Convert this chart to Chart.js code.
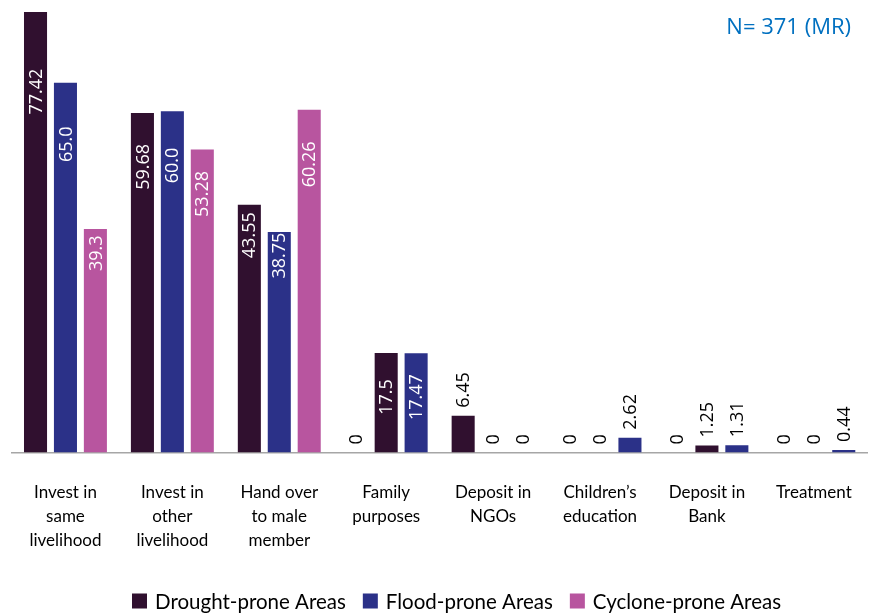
<!DOCTYPE html>
<html>
<head>
<meta charset="utf-8">
<script src="https://cdn.jsdelivr.net/npm/chart.js@4.4.1/dist/chart.umd.min.js"></script>
<style>
  html, body { margin: 0; padding: 0; background: #fff; }
  #wrap { width: 872px; height: 615px; }
</style>
</head>
<body>
<div id="wrap"><canvas id="uses"></canvas></div>
<script>
const categories = [
    ["Invest in", "same", "livelihood"],
    ["Invest in", "other", "livelihood"],
    ["Hand over", "to male", "member"],
    ["Family", "purposes"],
    ["Deposit in", "NGOs"],
    ["Children\u2019s", "education"],
    ["Deposit in", "Bank"],
    ["Treatment"],
];
const drought = [77.42, 59.68, 43.55, 0, 6.45, 0, 0, 0];
const flood = [65.0, 60.0, 38.75, 17.5, 0, 0, 1.25, 0];
const cyclone = [39.3, 53.28, 60.26, 17.47, 0, 2.62, 1.31, 0.44];
const seriesNames = ["Drought-prone Areas", "Flood-prone Areas", "Cyclone-prone Areas"];
const seriesColors = ["#30102F", "#2B3188", "#B8559F"];
const note = "N= 371 (MR)";

function fmt(v) {
    if (v === 0) return "0";
    return Number.isInteger(v) ? v.toFixed(1) : String(v);
}

// in the source picture the last five groups use the colour of the previous series
function barColor(di) {
    return (c) => (c.dataIndex >= 3 && di > 0 ? seriesColors[di - 1] : seriesColors[di]);
}

// value labels, rotated, white inside for tall bars, black above for short ones
const valueLabels = {
    id: "valueLabels",
    afterDatasetsDraw(chart) {
        const ctx = chart.ctx;
        const base = chart.scales.y.getPixelForValue(0);
        ctx.save();
        ctx.font = "18px 'Open Sans'";
        ctx.textBaseline = "middle";
        chart.data.datasets.forEach((ds, di) => {
            chart.getDatasetMeta(di).data.forEach((bar, i) => {
                const v = ds.data[i];
                const txt = fmt(v);
                const w = ctx.measureText(txt).width;
                let cy, color, clip = false;
                if (v >= 30) {
                    cy = base - (4.24 * v + 32.7);
                    color = "#fff";
                    clip = true;
                } else if (v >= 10) {
                    cy = bar.y + 44;
                    color = "#fff";
                } else {
                    cy = bar.y - 8 - w / 2;
                    color = "#000";
                }
                ctx.save();
                if (clip) {
                    ctx.beginPath();
                    ctx.rect(bar.x - bar.width / 2, bar.y, bar.width, base - bar.y);
                    ctx.clip();
                }
                ctx.translate(bar.x + 1, cy);
                ctx.rotate(-Math.PI / 2);
                ctx.fillStyle = color;
                ctx.textAlign = "center";
                ctx.fillText(txt, 0, 0);
                ctx.restore();
            });
        });
        ctx.restore();
    },
};

// legend and sample note
const extras = {
    id: "extras",
    afterDraw(chart) {
        const ctx = chart.ctx;
        ctx.save();
        ctx.font = "22px 'Open Sans'";
        ctx.fillStyle = "#0070C0";
        ctx.textAlign = "right";
        ctx.textBaseline = "middle";
        ctx.fillText(note, 851, 28);

        ctx.font = "20.5px Lato";
        ctx.textAlign = "left";
        const box = 15, gapBox = 8, gapItem = 17;
        let x = 132;
        const y = 601;
        seriesNames.forEach((n, i) => {
            ctx.fillStyle = seriesColors[i];
            ctx.fillRect(x, y - box / 2, box, box);
            ctx.fillStyle = "#000";
            ctx.fillText(n, x + box + gapBox, y + 1);
            x += box + gapBox + ctx.measureText(n).width + gapItem;
        });
        ctx.restore();
    },
};

const ctx1 = document.getElementById("uses").getContext("2d");
const usesChart = new Chart(ctx1, {
    type: "bar",
    data: {
        labels: categories,
        datasets: [
            { label: seriesNames[0], data: drought, backgroundColor: barColor(0) },
            { label: seriesNames[1], data: flood, backgroundColor: barColor(1) },
            { label: seriesNames[2], data: cyclone, backgroundColor: barColor(2) },
        ],
    },
    options: {
        responsive: true,
        maintainAspectRatio: false,
        animation: false,
        categoryPercentage: 0.84,
        barPercentage: 0.77,
        layout: {
            padding: { top: 12, left: 12, right: 4, bottom: 42 },
        },
        scales: {
            x: {
                grid: { display: false },
                border: { display: true, color: "#A6A6A6", width: 1.5 },
                ticks: {
                    color: "#000",
                    padding: 20,
                    maxRotation: 0,
                    autoSkip: false,
                    font: { family: "Lato", size: 17, lineHeight: 1.42 },
                },
            },
            y: {
                display: false,
                min: 0,
                max: 77.42,
            },
        },
        plugins: {
            legend: { display: false },
            tooltip: { enabled: false },
        },
    },
    plugins: [valueLabels, extras],
});
</script>
</body>
</html>
